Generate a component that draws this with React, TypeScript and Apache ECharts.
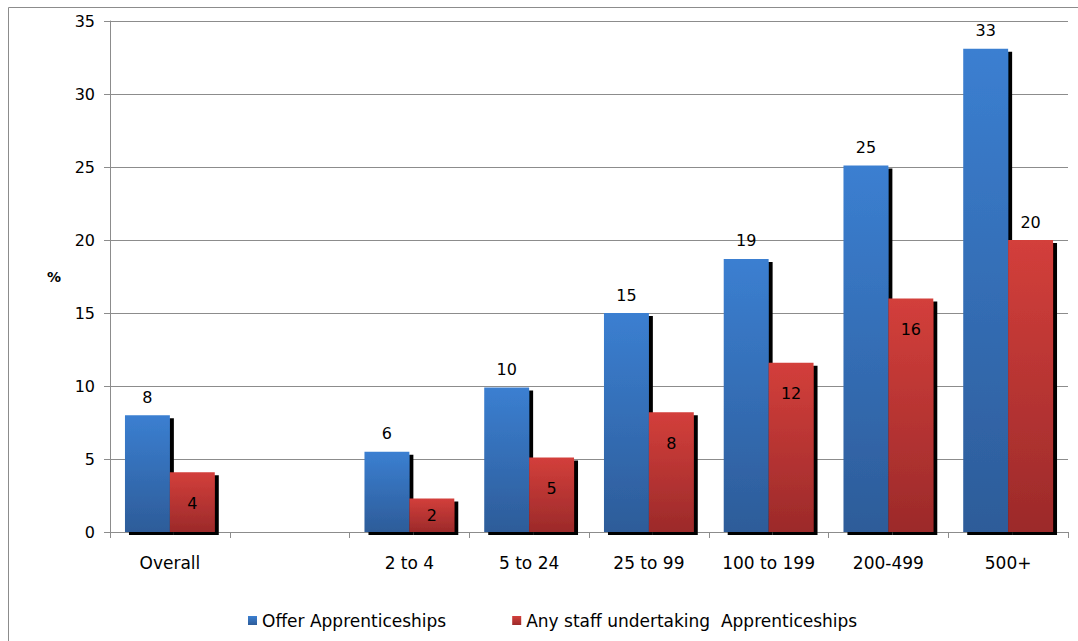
import React, { useEffect, useRef } from "react";
import * as echarts from "echarts";

const categories = ["Overall", "", "2 to 4", "5 to 24", "25 to 99", "100 to 199", "200-499", "500+"];
const offerValues = [8.0, null, 5.5, 9.9, 15.0, 18.7, 25.1, 33.1];
const staffValues = [4.1, null, 2.3, 5.1, 8.2, 11.6, 16.0, 20.0];
const offerLabels = ["8", "", "6", "10", "15", "19", "25", "33"];
const staffLabels = ["4", "", "2", "5", "8", "12", "16", "20"];
const seriesNames = ["Offer Apprenticeships", "Any staff undertaking  Apprenticeships"];
const yTicks = { min: 0, max: 35, interval: 5 };

const FONT = "DejaVu Sans";

export default function App() {
  const ref = useRef<HTMLDivElement>(null);

  useEffect(() => {
    if (!ref.current) return;
    const chart = echarts.init(ref.current, null, { renderer: "svg" });

    const blue = new echarts.graphic.LinearGradient(0, 0, 0, 1, [
      { offset: 0, color: "#3B7FD1" },
      { offset: 1, color: "#2D5C99" },
    ]);
    const red = new echarts.graphic.LinearGradient(0, 0, 0, 1, [
      { offset: 0, color: "#D33F3B" },
      { offset: 1, color: "#9C2A2A" },
    ]);

    const shadow = {
      shadowColor: "#000000",
      shadowBlur: 0,
      shadowOffsetX: 4,
      shadowOffsetY: 3,
    };

    const redLabelFor = (i: number) => {
      if (i === 7) return { position: "top", distance: 10 };
      if (i === 2) return { position: "inside" };
      return { position: "insideTop", distance: 23 };
    };

    const option = {
      animation: false,
      backgroundColor: "#ffffff",
      textStyle: { fontFamily: FONT },
      graphic: [
        {
          type: "rect",
          shape: { x: 8.5, y: 7.5, width: 1200, height: 800 },
          style: { fill: "none", stroke: "#8c8c8c", lineWidth: 1 },
          silent: true,
          z: -10,
        },
      ],
      legend: {
        left: 243,
        top: 607,
        itemWidth: 9,
        itemHeight: 9,
        itemGap: 66,
        icon: "rect",
        textStyle: { fontFamily: FONT, fontSize: 17, color: "#000000" },
        data: seriesNames,
      },
      grid: { left: 110, right: 10, top: 21, bottom: 109, containLabel: false },
      xAxis: {
        type: "category",
        data: categories,
        axisLine: { lineStyle: { color: "#8c8c8c" } },
        axisTick: { show: true, length: 6, interval: 0, lineStyle: { color: "#8c8c8c" } },
        axisLabel: {
          interval: 0,
          hideOverlap: false,
          fontFamily: FONT,
          fontSize: 17,
          color: "#000000",
          margin: 22,
        },
      },
      yAxis: {
        type: "value",
        min: yTicks.min,
        max: yTicks.max,
        interval: yTicks.interval,
        name: "%",
        nameLocation: "middle",
        nameRotate: 0,
        nameGap: 49,
        nameTextStyle: {
          fontFamily: FONT,
          fontSize: 14,
          fontWeight: "bold",
          color: "#000000",
          padding: [0, 0, 9, 0],
        },
        axisLine: { show: true, lineStyle: { color: "#8c8c8c" } },
        axisTick: { show: true, length: 6, lineStyle: { color: "#8c8c8c" } },
        axisLabel: { fontFamily: FONT, fontSize: 16, color: "#000000", margin: 15 },
        splitLine: { lineStyle: { color: "#8c8c8c", width: 1 } },
      },
      series: [
        {
          name: seriesNames[0],
          type: "bar",
          barGap: "0%",
          barCategoryGap: "25%",
          itemStyle: { color: blue, ...shadow },
          label: {
            show: true,
            position: "top",
            distance: 10,
            fontFamily: FONT,
            fontSize: 16,
            color: "#000000",
            formatter: (p: any) => offerLabels[p.dataIndex],
          },
          data: offerValues,
        },
        {
          name: seriesNames[1],
          type: "bar",
          barGap: "0%",
          barCategoryGap: "25%",
          itemStyle: { color: red, ...shadow },
          label: {
            show: true,
            fontFamily: FONT,
            fontSize: 16,
            color: "#000000",
            formatter: (p: any) => staffLabels[p.dataIndex],
          },
          data: staffValues.map((v, i) => ({ value: v, label: redLabelFor(i) })),
        },
      ],
    };

    chart.setOption(option as any);
    return () => chart.dispose();
  }, []);

  return (
    <div
      ref={ref}
      style={{ position: "absolute", left: 0, top: 0, width: 1078, height: 641 }}
    />
  );
}
